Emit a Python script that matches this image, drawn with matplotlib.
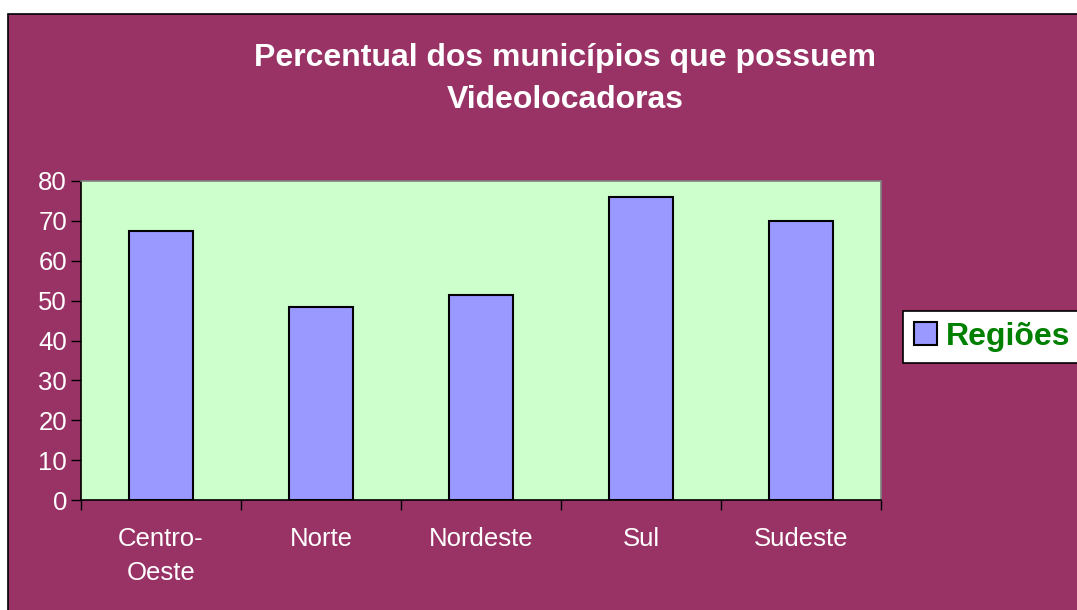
import matplotlib
matplotlib.use("Agg")
import matplotlib.pyplot as plt
from matplotlib.patches import Rectangle, Patch
import numpy as np

plt.rcParams['font.family'] = ['Liberation Sans', 'DejaVu Sans']

categories = ["Centro-\nOeste", "Norte", "Nordeste", "Sul", "Sudeste"]
values = [67.5, 48.5, 51.5, 76.0, 70.0]
yticks = [0, 10, 20, 30, 40, 50, 60, 70, 80]
title = "Percentual dos municípios que possuem\nVideolocadoras"
series_name = "Regiões"

W, H = 1077, 610
fig = plt.figure(figsize=(W / 100, H / 100), dpi=100)
fig.patch.set_facecolor("white")

bg = fig.add_axes([0, 0, 1, 1], zorder=0)
bg.set_axis_off()
bg.set_xlim(0, 1)
bg.set_ylim(0, 1)
bg.add_patch(Rectangle((8 / W, -0.01), 1 - 8 / W + 0.01, 1 - 14 / H + 0.01,
                       facecolor="#993366", edgecolor="black", linewidth=1.2))

ax = fig.add_axes([81 / W, 1 - 500 / H, 800 / W, 319 / H], zorder=2)
ax.set_facecolor("#CCFFCC")
x = np.arange(len(categories))
ax.bar(x, values, width=0.4, color="#9999FF", edgecolor="black", linewidth=1.5, zorder=3)
ax.set_xlim(-0.5, len(categories) - 0.5)
ax.set_ylim(0, 80)
ax.set_yticks(yticks)
ax.set_yticklabels([str(t) for t in yticks], color="white", fontsize=18.5)
ax.tick_params(axis="y", direction="out", length=7, width=1, colors="black", labelcolor="white", pad=3)
ax.set_xticks(np.arange(-0.5, len(categories), 1.0))
ax.set_xticklabels([])
ax.set_xticks(x, minor=True)
ax.set_xticklabels(categories, minor=True, color="white", fontsize=18.5, linespacing=1.5)
ax.tick_params(axis="x", which="major", direction="out", length=7, width=1, colors="black")
ax.tick_params(axis="x", which="minor", length=0, pad=19.5, labelcolor="white")
for lab in ax.get_xticklabels(minor=True):
    lab.set_verticalalignment("top")
for s in ["top", "right"]:
    ax.spines[s].set_color("#808080")
    ax.spines[s].set_linewidth(1.2)
for s in ["left", "bottom"]:
    ax.spines[s].set_color("black")
    ax.spines[s].set_linewidth(1.2)

fig.text(565 / W, 1 - 79 / H, title, ha="center", va="center", color="white",
         fontsize=23, fontweight="bold", linespacing=1.5, zorder=3)

leg = fig.legend(handles=[Patch(facecolor="#9999FF", edgecolor="black", linewidth=1.5, label=series_name)],
                 loc="center left", bbox_to_anchor=(903 / W, 1 - 337 / H), frameon=True,
                 fancybox=False, framealpha=1, fontsize=23, handlelength=0.72, handleheight=0.72,
                 handletextpad=0.28, borderpad=0.35, borderaxespad=0)
leg.set_zorder(5)
leg.get_frame().set_edgecolor("black")
leg.get_frame().set_linewidth(1.2)
for t in leg.get_texts():
    t.set_color("#008000")
    t.set_fontweight("bold")

fig.savefig("out.png", dpi=100)
